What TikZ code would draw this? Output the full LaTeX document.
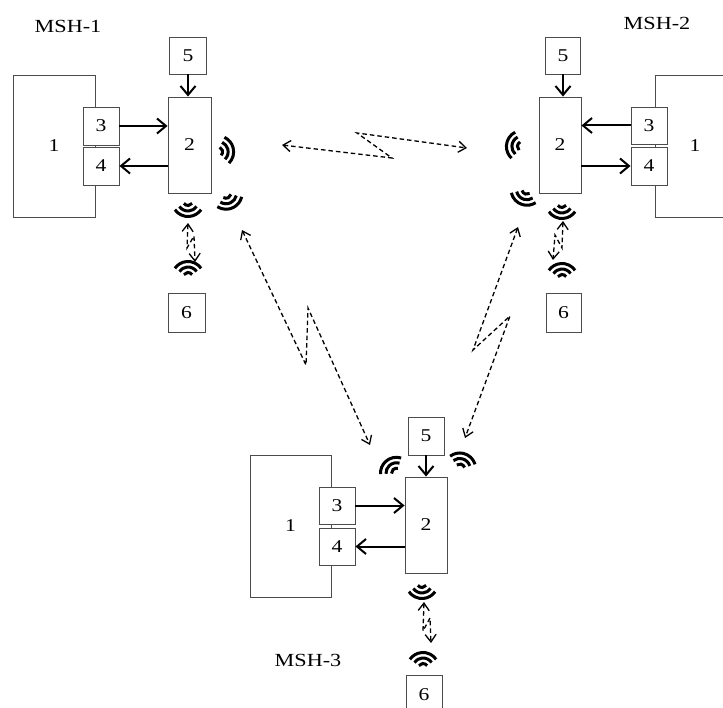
\documentclass[tikz,border=0pt]{standalone}
\usepackage{fontspec}
\setmainfont[FakeStretch=1.2]{Liberation Serif}
\usetikzlibrary{arrows.meta}
\begin{document}
\begin{tikzpicture}[x=1pt,y=1pt,
  box/.style={draw=black!70, line width=0.9pt, fill=white, inner sep=0pt, font=\fontsize{18}{18}\selectfont},
  solidarr/.style={line width=2pt, -{Straight Barb[length=9pt,width=15pt]}},
  dasharr/.style={line width=1.3pt, dash pattern=on 4.5pt off 3pt, {Straight Barb[length=7.5pt,width=11pt]}-{Straight Barb[length=7.5pt,width=11pt]}},
  wave/.pic={\foreach \r in {5,10.5,16}{\draw[line width=3pt] ([shift={(-10.5,0)}]-55:\r) arc (-55:55:\r);}},
  lbl/.style={font=\fontsize{18.5}{18.5}\selectfont}
]
\useasboundingbox (0,0) rectangle (723,-708);
\clip (0,0) rectangle (723,-708);

% ---------- MSH-1 ----------
\node[lbl] (t1) at (68,-26) {MSH-1};
\node[box, minimum width=82pt, minimum height=142pt] (a1) at (54,-146) {1};
\node[box, minimum width=36pt, minimum height=38pt] (a3) at (101,-126) {3};
\node[box, minimum width=36pt, minimum height=38pt] (a4) at (101,-166) {4};
\node[box, minimum width=43pt, minimum height=96pt] (a2) at (189.5,-145) {2};
\node[box, minimum width=37pt, minimum height=37pt] (a5) at (188,-55.5) {5};
\node[box, minimum width=37pt, minimum height=39pt] (a6) at (186.5,-312.5) {6};
\draw[solidarr] (a5.south) -- (a5.south |- a2.north);
\draw[solidarr] (a3.east) -- (a3.east -| a2.west);
\draw[solidarr] (a2.west |- a4.east) -- (a4.east);
\pic[rotate=10] at (228,-150) {wave};
\pic[rotate=-90] at (188,-211) {wave};
\pic[rotate=-68] at (230,-203) {wave};
\pic[rotate=90] at (188,-267) {wave};
\coordinate (a7) at (188,-223);
\coordinate (a8) at (195,-262);
\draw[dasharr] (a7) -- (187,-248) -- (194,-236) -- (a8);

% ---------- MSH-2 ----------
\node[lbl] (t2) at (657,-23) {MSH-2};
\node[box, minimum width=80pt, minimum height=142pt] (b1) at (695,-146) {1};
\node[box, minimum width=36pt, minimum height=37pt] (b3) at (649,-125.5) {3};
\node[box, minimum width=36pt, minimum height=38pt] (b4) at (649,-166) {4};
\node[box, minimum width=42pt, minimum height=96pt] (b2) at (560,-145) {2};
\node[box, minimum width=35pt, minimum height=37pt] (b5) at (563,-55.5) {5};
\node[box, minimum width=35pt, minimum height=39pt] (b6) at (563.5,-312.5) {6};
\draw[solidarr] (b5.south) -- (b5.south |- b2.north);
\draw[solidarr] (b3.west) -- (b3.west -| b2.east);
\draw[solidarr] (b2.east |- b4.west) -- (b4.west);
\pic[rotate=172] at (512,-145) {wave};
\pic[rotate=-112] at (523,-199) {wave};
\pic[rotate=-90] at (562,-213) {wave};
\pic[rotate=90] at (562,-269) {wave};
\coordinate (b7) at (563,-221);
\coordinate (b8) at (553,-260);
\draw[dasharr] (b7) -- (562,-248) -- (555,-235) -- (b8);

% ---------- MSH-3 ----------
\node[lbl] (t3) at (308,-660) {MSH-3};
\node[box, minimum width=81pt, minimum height=142pt] (c1) at (290.5,-526) {1};
\node[box, minimum width=36pt, minimum height=37pt] (c3) at (337,-505.5) {3};
\node[box, minimum width=36pt, minimum height=37pt] (c4) at (337,-546.5) {4};
\node[box, minimum width=42pt, minimum height=96pt] (c2) at (426,-525) {2};
\node[box, minimum width=36pt, minimum height=38pt] (c5) at (426,-436) {5};
\node[box, minimum width=36pt, minimum height=40pt] (c6) at (424,-695) {6};
\draw[solidarr] (c5.south) -- (c5.south |- c2.north);
\draw[solidarr] (c3.east) -- (c3.east -| c2.west);
\draw[solidarr] (c2.west |- c4.east) -- (c4.east);
\pic[rotate=128] at (390,-465) {wave};
\pic[rotate=72] at (463,-459) {wave};
\pic[rotate=-90] at (422,-593) {wave};
\pic[rotate=90] at (423,-658) {wave};
\coordinate (c7) at (424,-602);
\coordinate (c8) at (431,-643);
\draw[dasharr] (c7) -- (423,-631) -- (430,-618) -- (c8);

% ---------- long links ----------
\coordinate (l1) at (282,-145);
\coordinate (l2) at (467,-148);
\draw[dasharr] (l1) -- (392,-158) -- (357,-133) -- (l2);
\coordinate (m1) at (242,-230);
\coordinate (m2) at (370,-445);
\draw[dasharr] (m1) -- (306,-365) -- (308,-308) -- (m2);
\coordinate (n1) at (518,-227);
\coordinate (n2) at (465,-438);
\draw[dasharr] (n1) -- (473,-350) -- (510,-316) -- (n2);
\end{tikzpicture}
\end{document}
